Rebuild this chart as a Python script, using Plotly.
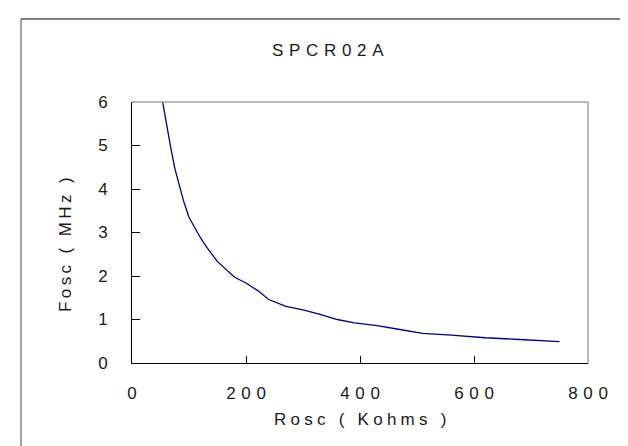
import plotly.graph_objects as go

rosc_kohms = [51, 56, 62, 68, 75, 82, 91, 100, 110, 120, 130, 150, 180, 200, 220, 240,
              270, 300, 330, 360, 390, 430, 470, 510, 560, 620, 680, 750]
fosc_mhz = [6.2, 5.83, 5.3, 4.95, 4.48, 4.15, 3.7, 3.35, 3.1, 2.88, 2.68, 2.33, 1.97, 1.84,
            1.67, 1.46, 1.30, 1.22, 1.12, 1.0, 0.92, 0.86, 0.77, 0.68, 0.64, 0.58, 0.54, 0.49]

x_ticks = [0, 200, 400, 600, 800]
y_ticks = [0, 1, 2, 3, 4, 5, 6]
title_text = "SPCR02A"
x_title = "Rosc ( Kohms )"
y_title = "Fosc ( MHz )"

NB = "\u00a0"


def spaced(s, gap):
    return gap.join(list(s.replace(" ", NB)))


FONT = "Liberation Sans, Arial, sans-serif"
TXT = "#1a1a1a"

fig = go.Figure()
fig.add_trace(go.Scatter(x=rosc_kohms, y=fosc_mhz, mode="lines",
                         line=dict(color="#000080", width=1.3), showlegend=False))

W, H = 628, 446
L, R, T, B = 124, 48, 94, 91
pw, ph = W - L - R, H - T - B


def px2x(px):
    return (px - L) / pw


def px2y(py):
    return (H - B - py) / ph


fig.update_layout(
    width=W, height=H,
    margin=dict(l=L, r=R, t=T, b=B, autoexpand=False),
    paper_bgcolor="white", plot_bgcolor="white",
    font=dict(family=FONT, size=17, color=TXT),
    xaxis=dict(range=[0, 800], tickvals=x_ticks,
               ticktext=[spaced(str(v), "\u2004") for v in x_ticks],
               showgrid=False, zeroline=False, showline=True, linecolor="black", linewidth=1,
               ticks="inside", ticklen=7, tickcolor="black", ticklabelstandoff=15,
               tickfont=dict(family=FONT, size=17, color=TXT)),
    yaxis=dict(range=[0, 6], tickvals=y_ticks, ticktext=[str(v) for v in y_ticks],
               showgrid=False, zeroline=False, showline=True, linecolor="black", linewidth=1,
               ticks="inside", ticklen=8, tickcolor="black", ticklabelstandoff=20,
               tickfont=dict(family=FONT, size=17, color=TXT)),
    shapes=[
        dict(type="line", xref="paper", yref="paper", x0=0, x1=1, y0=1, y1=1,
             line=dict(color="#a0a0a0", width=1.5)),
        dict(type="line", xref="paper", yref="paper", x0=1, x1=1, y0=0, y1=1,
             line=dict(color="#a0a0a0", width=1.5)),
        dict(type="line", xref="paper", yref="paper", x0=px2x(13), x1=px2x(W + 2),
             y0=px2y(11), y1=px2y(11), line=dict(color="black", width=1.2)),
        dict(type="line", xref="paper", yref="paper", x0=px2x(13), x1=px2x(13),
             y0=px2y(11), y1=px2y(H + 2), line=dict(color="#666666", width=1.2)),
    ],
    annotations=[
        dict(text=spaced(title_text, "\u2004"), xref="paper", yref="paper",
             x=px2x(320), y=px2y(43), xanchor="center", yanchor="middle", showarrow=False,
             font=dict(family=FONT, size=17, color=TXT)),
        dict(text=spaced(x_title, "\u2005"), xref="paper", yref="paper",
             x=px2x(352), y=px2y(411), xanchor="center", yanchor="middle", showarrow=False,
             font=dict(family=FONT, size=17, color=TXT)),
        dict(text=spaced(y_title, "\u2009"), xref="paper", yref="paper",
             x=px2x(57), y=px2y(237), xanchor="center", yanchor="middle", showarrow=False,
             textangle=-90, font=dict(family=FONT, size=17, color=TXT)),
    ],
)

fig.write_html("out.html")
